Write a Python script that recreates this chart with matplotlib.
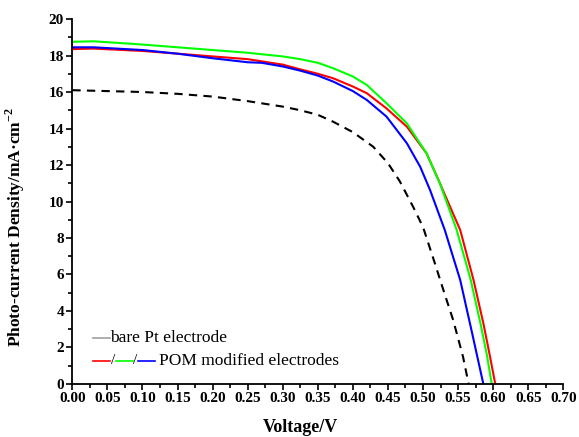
import matplotlib
matplotlib.use("Agg")
import matplotlib.pyplot as plt
from matplotlib.ticker import MultipleLocator, FormatStrFormatter

# Data
v_bare = [0, 0.05, 0.1, 0.15, 0.2, 0.25, 0.3, 0.325, 0.35, 0.372, 0.4, 0.429, 0.45, 0.467, 0.486, 0.5, 0.517, 0.529, 0.543, 0.557, 0.565]
j_bare = [16.1, 16.05, 16.0, 15.9, 15.75, 15.5, 15.2, 15.0, 14.75, 14.37, 13.8, 13.0, 12.1, 11.1, 9.7, 8.6, 6.6, 5.15, 3.5, 1.5, 0.0]

v_red = [0, 0.03, 0.1, 0.15, 0.2, 0.25, 0.3, 0.325, 0.35, 0.372, 0.4, 0.42, 0.448, 0.477, 0.505, 0.522, 0.553, 0.572, 0.586, 0.595, 0.603]
j_red = [18.35, 18.38, 18.25, 18.1, 17.95, 17.8, 17.5, 17.24, 17.0, 16.75, 16.3, 15.93, 15.1, 14.1, 12.64, 11.18, 8.44, 5.7, 3.33, 1.6, 0.0]

v_green = [0, 0.03, 0.1, 0.15, 0.2, 0.25, 0.3, 0.325, 0.35, 0.372, 0.4, 0.42, 0.448, 0.477, 0.505, 0.524, 0.548, 0.568, 0.582, 0.591, 0.598]
j_green = [18.75, 18.78, 18.6, 18.45, 18.3, 18.15, 17.95, 17.8, 17.6, 17.3, 16.85, 16.38, 15.38, 14.28, 12.64, 11.0, 8.44, 5.7, 3.3, 1.6, 0.0]

v_blue = [0, 0.03, 0.1, 0.15, 0.2, 0.25, 0.27, 0.3, 0.325, 0.35, 0.372, 0.4, 0.42, 0.448, 0.477, 0.496, 0.51, 0.531, 0.553, 0.569, 0.586]
j_blue = [18.45, 18.45, 18.3, 18.1, 17.85, 17.63, 17.6, 17.4, 17.17, 16.9, 16.57, 16.05, 15.56, 14.65, 13.19, 11.9, 10.63, 8.44, 5.7, 2.96, 0.0]

plt.rcParams['font.family'] = ['Liberation Serif', 'DejaVu Serif']
plt.rcParams['mathtext.fontset'] = 'custom'
plt.rcParams['mathtext.rm'] = 'Liberation Serif'
plt.rcParams['mathtext.bf'] = 'Liberation Serif:bold'

fig = plt.figure(figsize=(5.79, 4.37), dpi=100)
ax = fig.add_axes([0.1249, 0.1213, 0.848, 0.8352])

lw = 1.5
ax.plot(v_bare, j_bare, color='black', lw=lw, linestyle=(0, (4, 3)))
ax.plot(v_red, j_red, color='#ff0000', lw=lw)
ax.plot(v_green, j_green, color='#00ff00', lw=lw)
ax.plot(v_blue, j_blue, color='#0000ff', lw=lw)

ax.set_xlim(0, 0.70)
ax.set_ylim(0, 20)
ax.xaxis.set_major_locator(MultipleLocator(0.05))
ax.xaxis.set_minor_locator(MultipleLocator(0.025))
ax.yaxis.set_major_locator(MultipleLocator(2))
ax.yaxis.set_minor_locator(MultipleLocator(1))
ax.xaxis.set_major_formatter(FormatStrFormatter('%.2f'))
ax.yaxis.set_major_formatter(FormatStrFormatter('%d'))

for s in ['top', 'right']:
    ax.spines[s].set_visible(False)
for s in ['left', 'bottom']:
    ax.spines[s].set_linewidth(1.3)

ax.tick_params(which='major', direction='out', length=4, width=1.2, labelsize=11, pad=2)
ax.tick_params(which='minor', direction='out', length=2.8, width=1.2)
for lab in ax.get_xticklabels() + ax.get_yticklabels():
    lab.set_fontweight('bold')

ax.set_xlabel('Voltage/V', fontsize=13, fontweight='bold')
ax.xaxis.set_label_coords(0.464, -0.097)
ax.set_ylabel('Photo-current Density/mA\u00b7cm$^{\\mathbf{-2}}$', fontsize=12.5, fontweight='bold')
ax.yaxis.set_label_coords(-0.093, 0.43)

# custom legend
tr = ax.transAxes
y1, y2 = 0.126, 0.064
ax.plot([0.043, 0.077], [y1, y1], color='#a0a0a0', lw=1.2, transform=tr, clip_on=False)
ax.text(0.077, y1, 'bare Pt electrode', transform=tr, fontsize=12.5, va='center', ha='left')
ax.plot([0.043, 0.077], [y2, y2], color='#ff0000', lw=1.2, transform=tr, clip_on=False)
ax.text(0.0825, y2, '/', transform=tr, fontsize=11, va='center', ha='center')
ax.plot([0.088, 0.123], [y2, y2], color='#00ff00', lw=1.2, transform=tr, clip_on=False)
ax.text(0.1285, y2, '/', transform=tr, fontsize=11, va='center', ha='center')
ax.plot([0.134, 0.168], [y2, y2], color='#0000ff', lw=1.2, transform=tr, clip_on=False)
ax.text(0.176, y2, 'POM modified electrodes', transform=tr, fontsize=12.5, va='center', ha='left')

fig.savefig('out.png', dpi=100)
